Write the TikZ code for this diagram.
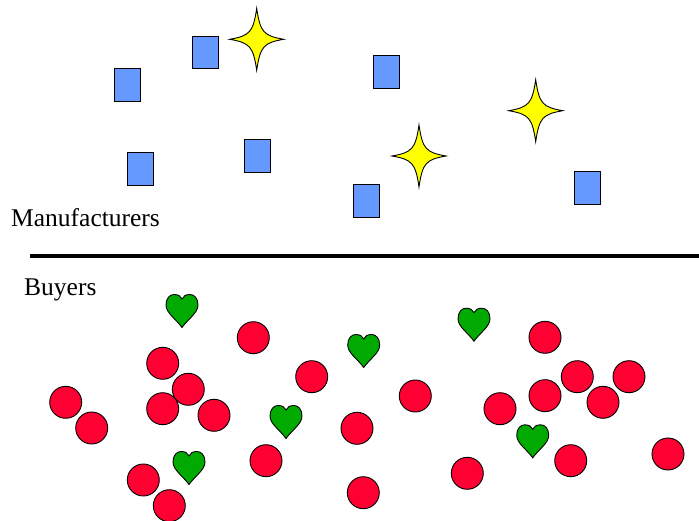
\documentclass[tikz,border=0pt]{standalone}
\usepackage{fontspec}
\setmainfont{Liberation Serif}
\usepackage{tikz}
\usetikzlibrary{shapes,positioning}

\definecolor{firmblue}{RGB}{102,153,255}
\definecolor{buyred}{RGB}{255,0,51}
\definecolor{heartgreen}{RGB}{0,170,0}
\definecolor{sparkyellow}{RGB}{255,255,0}

\tikzset{
  firm/.style={draw, rectangle, fill=firmblue, line width=0.9pt, minimum width=26pt, minimum height=32.5pt, inner sep=0pt},
  buyer/.style={draw, circle, fill=buyred, line width=0.9pt, minimum size=32pt, inner sep=0pt},
  sparkle/.pic={\filldraw[fill=sparkyellow, line width=0.9pt] (0,-31) .. controls (3.5,-7) and (7,-3.5) .. (27,0) .. controls (7,3.5) and (3.5,7) .. (0,31) .. controls (-3.5,7) and (-7,3.5) .. (-27,0) .. controls (-7,-3.5) and (-3.5,-7) .. cycle;},
  heart/.pic={\filldraw[fill=heartgreen, line width=0.9pt] (0,16.5) .. controls (-6,8) and (-16,2) .. (-16,-6) .. controls (-16,-13) and (-12,-16.5) .. (-8,-16.5) .. controls (-4,-16.5) and (-1,-15) .. (0,-12) .. controls (1,-15) and (4,-16.5) .. (8,-16.5) .. controls (12,-16.5) and (16,-13) .. (16,-6) .. controls (16,2) and (6,8) .. cycle;},
  label/.style={font=\fontsize{25.5}{29}\selectfont, inner sep=0pt, anchor=base west}
}

\begin{document}
\begin{tikzpicture}[x=1pt, y=-1pt]
    \useasboundingbox (0,0) rectangle (699,521);

    % manufacturers
    \node [firm] (m1) at (205,52.5) {};
    \node [firm] (m2) at (127,85) {};
    \node [firm] (m3) at (386,72) {};
    \node [firm] (m4) at (140,169) {};
    \node [firm] (m5) at (257,156) {};
    \node [firm] (m6) at (366.7,201) {};
    \node [firm] (m7) at (587,188) {};
    \pic (s1) at (256.7,39.3) {sparkle};
    \pic (s2) at (419,156) {sparkle};
    \pic (s3) at (535.7,110.7) {sparkle};
    \node [label] (mlab) at (11,226.5) {Manufacturers};

    % divider
    \draw [line width=4pt] (30,256) -- (699,256);

    % buyers
    \node [label] (blab) at (24,295.5) {Buyers};
    \node [buyer] (b1) at (65.7,402.3) {};
    \node [buyer] (b2) at (91.7,428) {};
    \node [buyer] (b3) at (162.7,363.3) {};
    \node [buyer] (b4) at (188.3,389.3) {};
    \node [buyer] (b5) at (162.7,408.7) {};
    \node [buyer] (b6) at (214,415.3) {};
    \node [buyer] (b7) at (143.3,480) {};
    \node [buyer] (b8) at (169.3,505.7) {};
    \node [buyer] (b9) at (253.3,337.7) {};
    \node [buyer] (b10) at (311.7,376.7) {};
    \node [buyer] (b11) at (415.3,396) {};
    \node [buyer] (b12) at (357,428.3) {};
    \node [buyer] (b13) at (266,460.7) {};
    \node [buyer] (b14) at (363.3,492.7) {};
    \node [buyer] (b15) at (545,337.3) {};
    \node [buyer] (b16) at (577.3,376.7) {};
    \node [buyer] (b17) at (629,376.7) {};
    \node [buyer] (b18) at (545,395.7) {};
    \node [buyer] (b19) at (603,402.3) {};
    \node [buyer] (b20) at (500,408.7) {};
    \node [buyer] (b21) at (570.7,460.7) {};
    \node [buyer] (b22) at (668,454) {};
    \node [buyer] (b23) at (467.3,473.3) {};
    \pic (h1) at (182,311) {heart};
    \pic (h2) at (363.7,351) {heart};
    \pic (h3) at (474,324.7) {heart};
    \pic (h4) at (286,422) {heart};
    \pic (h5) at (189,468) {heart};
    \pic (h6) at (532.7,441.3) {heart};
\end{tikzpicture}
\end{document}
